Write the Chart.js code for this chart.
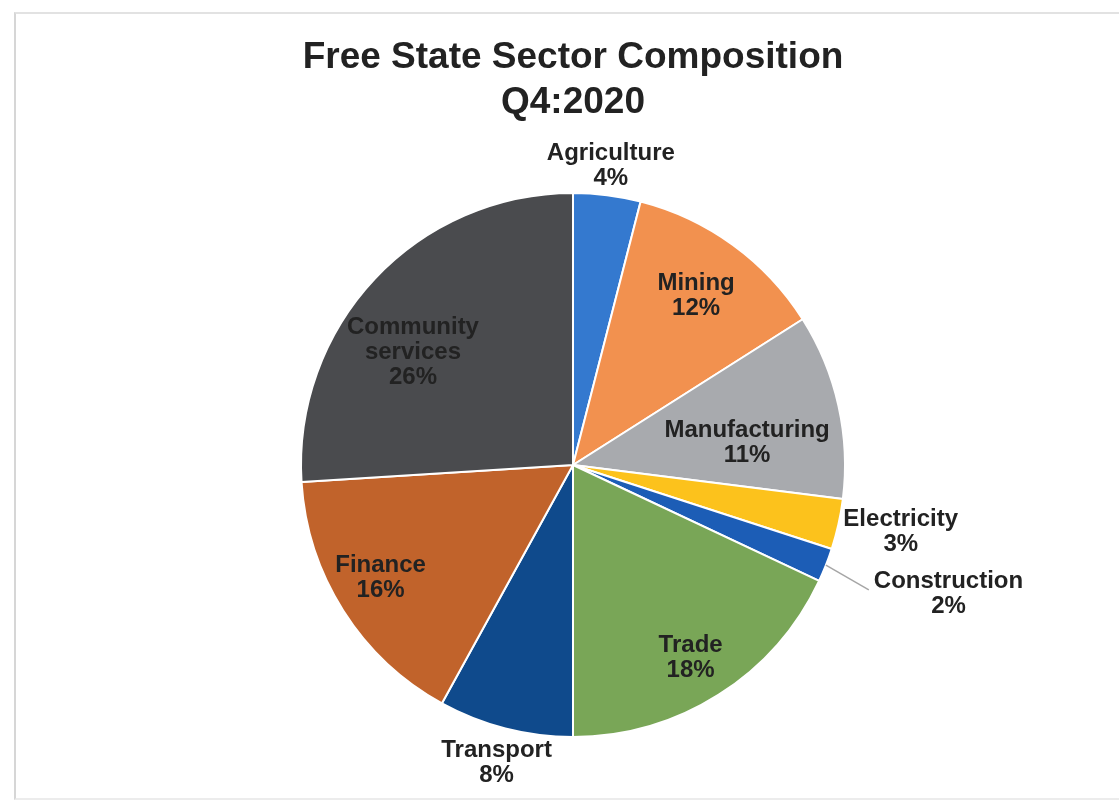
<!DOCTYPE html>
<html>
<head>
<meta charset="utf-8">
<title>Free State Sector Composition</title>
<script src="https://cdn.jsdelivr.net/npm/chart.js@4"></script>
<style>
  body { margin: 0; background: #ffffff; }
  #wrap { position: relative; width: 1119px; height: 800px; overflow: hidden; }
  #frame {
    position: absolute; left: 14px; top: 12px; width: 1200px; height: 784px;
    border-left: 2px solid #d6d6d6; border-top: 2px solid #e2e2e2; border-bottom: 2px solid #ececec;
  }
  canvas { position: absolute; left: 0; top: 0; }
</style>
</head>
<body>
<div id="wrap">
  <div id="frame"></div>
  <canvas id="sectorChart" width="1119" height="800"></canvas>
</div>
<script>
// Sectors, clockwise from 12 o'clock
const sectors = [
  "Agriculture",
  "Mining",
  "Manufacturing",
  "Electricity",
  "Construction",
  "Trade",
  "Transport",
  "Finance",
  "Community services",
];
const shares = [4, 12, 11, 3, 2, 18, 8, 16, 26];
const sliceColors = [
  "#3479cf",
  "#f2914f",
  "#a8aaae",
  "#fcc21c",
  "#1c5db6",
  "#79a657",
  "#0f4a8c",
  "#c1632b",
  "#4a4b4e",
];

// where each label sits: distance as a fraction of the radius, and a small angle nudge (degrees)
const labelPlacement = [
  { dist: 1.11, shift: 0 },
  { dist: 0.77, shift: 0 },
  { dist: 0.645, shift: 5.4 },
  { dist: 1.23, shift: -1 },
  { dist: 1.46, shift: -2.6, leader: true },
  { dist: 0.83, shift: 1 },
  { dist: 1.13, shift: 0 },
  { dist: 0.82, shift: 2 },
  { dist: 0.72, shift: -8 },
];

const LABEL_FONT = "bold 24px 'Liberation Sans', Arial, sans-serif";
const LINE_GAP = 25;

// Draws "name / xx%" labels on or beside each slice
const sliceLabels = {
  id: "sliceLabels",
  afterDatasetsDraw(chart) {
    const ctx = chart.ctx;
    const meta = chart.getDatasetMeta(0);
    ctx.save();
    ctx.font = LABEL_FONT;
    ctx.fillStyle = "#222222";
    ctx.textAlign = "center";
    ctx.textBaseline = "middle";

    meta.data.forEach((arc, i) => {
      const { x, y, startAngle, endAngle, outerRadius } = arc.getProps(
        ["x", "y", "startAngle", "endAngle", "outerRadius"],
        true
      );
      const place = labelPlacement[i];
      const mid = (startAngle + endAngle) / 2;
      const a = mid + (place.shift * Math.PI) / 180;
      const lx = x + Math.cos(a) * outerRadius * place.dist;
      const ly = y + Math.sin(a) * outerRadius * place.dist;

      const lines = sectors[i].split(" ").concat(shares[i] + "%");
      const firstY = ly - ((lines.length - 1) * LINE_GAP) / 2;

      if (place.leader) {
        const w = ctx.measureText(lines[0]).width;
        ctx.save();
        ctx.strokeStyle = "#a6a6a6";
        ctx.lineWidth = 1.5;
        ctx.beginPath();
        ctx.moveTo(x + Math.cos(mid) * outerRadius, y + Math.sin(mid) * outerRadius);
        ctx.lineTo(lx - w / 2 - 5, firstY + 8);
        ctx.stroke();
        ctx.restore();
      }

      lines.forEach((line, j) => {
        ctx.fillText(line, lx, firstY + j * LINE_GAP);
      });
    });
    ctx.restore();
  },
};

const ctx = document.getElementById("sectorChart").getContext("2d");

new Chart(ctx, {
  type: "pie",
  data: {
    labels: sectors,
    datasets: [
      {
        data: shares,
        backgroundColor: sliceColors,
        borderColor: "#ffffff",
        borderWidth: 2,
      },
    ],
  },
  options: {
    responsive: false,
    animation: false,
    layout: {
      padding: { left: 300, right: 273, top: 0, bottom: 62 },
    },
    plugins: {
      legend: { display: false },
      tooltip: { enabled: false },
      title: {
        display: true,
        text: ["Free State Sector Composition", "Q4:2020"],
        color: "#222222",
        font: {
          family: "'Liberation Sans', Arial, sans-serif",
          size: 37,
          weight: "bold",
          lineHeight: 1.216,
        },
        padding: { top: 35.5, bottom: 66.5 },
      },
    },
  },
  plugins: [sliceLabels],
});
</script>
</body>
</html>
